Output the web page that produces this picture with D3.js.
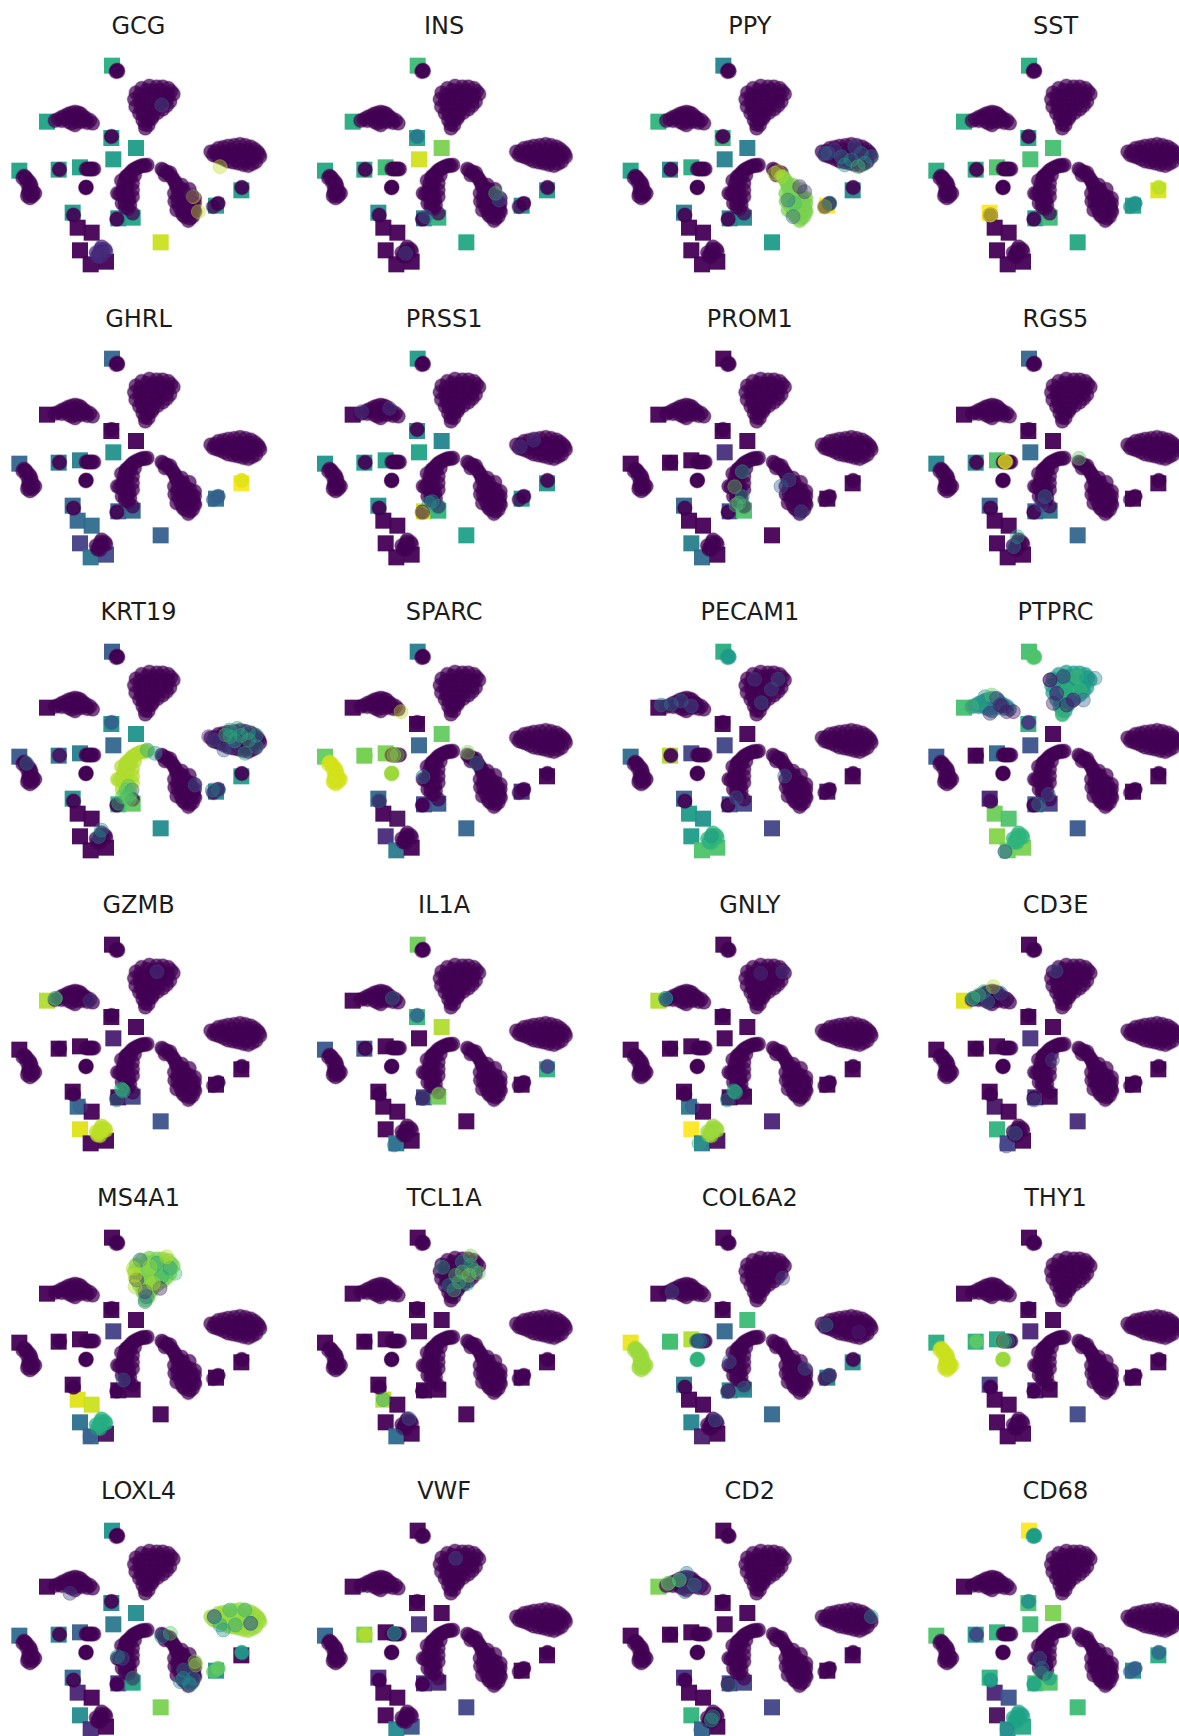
<!DOCTYPE html>
<html>
<head>
<meta charset="utf-8">
<script src="https://cdn.jsdelivr.net/npm/d3@7"></script>
<style>
  body { margin: 0; background: #fff; }
  .title { font: 24px "DejaVu Sans", sans-serif; fill: #1c1c1c; text-anchor: middle; }
</style>
</head>
<body>
<div id="chart"></div>
<script>
const genes = [
  "GCG", "INS", "PPY", "SST",
  "GHRL", "PRSS1", "PROM1", "RGS5",
  "KRT19", "SPARC", "PECAM1", "PTPRC",
  "GZMB", "IL1A", "GNLY", "CD3E",
  "MS4A1", "TCL1A", "COL6A2", "THY1",
  "LOXL4", "VWF", "CD2", "CD68"
];

// t-SNE positions of the 19 wells drawn as squares
const wellPositions = [
  [-11.4, 28.3], [-30.9, 11.5], [-11.6, 6.6], [-4.2, 3.6], [-11, 0.2], [-39.2, -3.2],
  [-27.4, -2.9], [-21, -2.2], [-23.2, -15.8], [-21.7, -20.3], [-17.5, -21.8], [-21, -27.1],
  [-17.8, -31.3], [-13.2, -30.5], [-9.5, -17.5], [-5.2, -17.3], [3.2, -24.7], [19.8, -13.7], [27.4, -9.1]
];

// one row per gene, same order as genes, value for each well (0-1)
const wellValues = [
  [.63, .58, .58, .55, .55, .58, .57, .58, .55, 0, 0, 0, 0, 0, .48, .58, .92, .58, .57],
  [.68, .62, .6, .8, .93, .6, .6, .68, .5, 0, 0, 0, 0, 0, .45, .65, .6, .5, .57],
  [.45, .65, .67, .42, .43, .58, .5, .62, .42, 0, 0, 0, 0, 0, .42, .48, .55, 1, .47],
  [.62, .62, .6, .7, .7, .62, .62, .72, 1, 0, 0, 0, 0, 0, .55, .68, .6, .58, .95],
  [.32, 0, 0, 0, .5, .33, .4, .43, .33, .33, .35, .18, .38, .22, .28, .33, .3, .38, 1],
  [.55, 0, .5, .45, .58, .52, .55, .57, .5, 0, 0, 0, 0, 0, .93, .65, .57, .55, .5],
  [0, 0, 0, 0, .13, 0, 0, 0, .33, 0, 0, .43, .35, 0, .25, .72, 0, 0, 0],
  [.33, 0, 0, 0, .35, .45, .48, .72, .3, 0, 0, 0, 0, 0, .33, .38, .33, 0, 0],
  [.28, 0, .52, .52, .33, .28, .4, .42, .5, 0, 0, 0, 0, 0, .65, .75, .48, .48, .57],
  [.42, 0, 0, .76, .32, .76, .78, .8, .33, 0, .02, .12, .4, 0, .22, .28, .32, .12, 0],
  [.62, 0, 0, 0, .2, .35, .88, .2, .3, .55, .5, .55, .72, .72, .25, .2, .2, .05, 0],
  [.7, .7, .65, 0, .25, .28, 0, .33, .1, .78, .72, .82, .78, .8, .28, .18, .28, 0, 0],
  [0, .88, 0, 0, .08, 0, 0, 0, 0, .35, 0, .95, 0, 0, 0, .2, .25, 0, 0],
  [.78, 0, .68, .88, 0, .28, .25, 0, 0, 0, 0, 0, .42, 0, .22, .78, 0, 0, .65],
  [0, .88, 0, 0, 0, 0, 0, 0, 0, .42, 0, 1, .4, .03, .02, 0, .1, 0, 0],
  [0, .95, 0, 0, .15, 0, 0, 0, 0, .05, 0, .65, .2, 0, .17, 0, .12, 0, 0],
  [0, 0, 0, 0, .18, 0, 0, 0, 0, .95, .92, .37, .33, .02, 0, 0, 0, 0, 0],
  [0, 0, 0, 0, 0, 0, 0, 0, 0, .88, 0, 0, .35, 0, 0, 0, 0, 0, 0],
  [0, 0, 0, .68, .33, .97, .68, .88, .43, 0, 0, .45, .07, 0, .47, .47, .33, .45, .5],
  [0, 0, 0, 0, .1, .62, .62, .6, .18, 0, 0, 0, 0, 0, .08, 0, .22, 0, 0],
  [.52, 0, .45, .48, .4, .35, .45, .3, .32, .1, 0, .48, .12, 0, .12, .6, .8, .5, 0],
  [0, 0, 0, 0, .13, .33, .8, 0, .12, 0, 0, 0, .47, .25, .12, .1, .2, 0, 0],
  [0, .8, 0, 0, 0, 0, 0, 0, .15, 0, 0, .65, .33, 0, .22, .2, .2, 0, 0],
  [1, 0, .72, .8, .68, .72, .55, .65, .65, .1, .25, .02, .55, .6, .68, .73, .68, .5, .62]
];

// cell clusters drawn as circles
const clusterA = [[-10, 26.8], [-9.6, 26.6], [-9.8, 27], [-10.2, 26.5]];
const clusterB = [
  [2, 22], [5.5, 21.5], [7, 19.8], [6, 17.5], [3.8, 15.2], [.8, 13.2], [-.5, 10.5], [-1.4, 9.5], [-2.2, 12], [-3.2, 14],
  [-4.3, 16], [-4.7, 18.2], [-4.2, 20.2], [-2.5, 21.5], [-.2, 22.2], [3.8, 22], [6.3, 20.6], [5, 16.3], [2.3, 14.2], [-.5, 12],
  [-1, 21], [1, 20.8], [3, 20.9], [-3, 19.6], [-1.2, 19.4], [.9, 19.6], [3.1, 19.5], [5.4, 19.5],
  [-3.1, 18], [-1, 18.1], [1, 18], [3, 18.2], [5, 18], [-2.9, 16.5], [-1, 16.6], [1.1, 16.4], [3, 16.6],
  [-2.5, 15], [-.5, 15.1], [1.5, 15], [-2, 13.5], [-.5, 13.6], [-1, 12.2], [.5, 12.4], [-1.5, 10.7]
];
const clusterC = [
  [-28.5, 11.8], [-26.5, 12.8], [-24.5, 13.8], [-22.5, 14.4], [-20.7, 13.8], [-19.2, 12.5], [-17.2, 11], [-18.8, 11.2],
  [-20.5, 11.5], [-22.5, 10.5], [-24.5, 11.5], [-26.5, 11.8], [-23, 12.5], [-21, 12.8], [-25, 12.5], [-22, 11.5],
  [-27.5, 12.2], [-25.5, 13.2], [-23.5, 14.1], [-21.5, 14.2], [-20, 13], [-18, 11.9], [-23.5, 11], [-19.5, 12], [-24, 12.8]
];
const clusterD = [
  [18.2, 2.5], [20.5, 3.5], [23.5, 4.2], [27, 4.7], [30.2, 4], [32.2, 2.5], [33, 1], [31.8, -.5], [29.5, -1.7], [26.5, -1],
  [23.5, -.4], [21, .8], [19, 1.5], [22, 2.5], [24.5, 3], [24.5, 1], [27, 3], [27, 1], [29.5, 3], [29.5, 1], [31, 1.8], [26, -.2], [28.5, -.5],
  [19.5, 2.6], [22, 3.8], [25.3, 4.4], [28.6, 4.4], [31.3, 3.3], [32.7, 1.8], [30.7, -1.1], [28, -1.4], [25, -.7], [22.3, .2], [20, 1.2],
  [23, 1.4], [25.8, 2], [28.3, 2], [30.5, .3]
];
const clusterArchLeft = [
  [-.8, -1.5], [-2, -1.6], [-3.2, -2], [-4.4, -2.6], [-5.5, -3.4], [-6.5, -4.5], [-7.3, -5.7], [-7.8, -7], [-7.2, -5], [-5.8, -5],
  [-6.5, -6.5], [-6.8, -8], [-7.2, -9.2], [-8.5, -9.8], [-9.8, -10], [-8, -11], [-6.5, -10.5], [-6.2, -12], [-6, -13.5], [-6.5, -14.6],
  [-7.5, -13], [-7.4, -14.2], [-8, -8.5], [-1.4, -1.7], [-2.6, -1.8], [-3.8, -2.3], [-5, -3], [-6, -4], [-7, -5.1], [-9.2, -10.2], [-6.8, -12.4],
  [-5.2, -7], [-5.2, -9], [-5.2, -11], [-8.6, -6.2], [-8.4, -13], [-4.6, -4.6]
];
const clusterArchTop = [[3.5, -2.7], [5, -3.5], [6, -3.8], [4.5, -4.5], [4, -3.1], [5.4, -4.2]];
const clusterArchRight = [
  [6.5, -5], [7.5, -6.5], [8, -8], [8.5, -9.5], [8.3, -11], [8.3, -12.5], [8.8, -14], [9.5, -15.5], [10.5, -17], [11.5, -18.2],
  [12.8, -17], [13.5, -15.5], [13, -14], [12.5, -12.5], [11, -10.5], [10, -9], [9.5, -7.5], [10.5, -12.5], [10.5, -14.5], [11.5, -16],
  [12, -11], [7, -5.8], [7.8, -7.3], [9, -8.4], [9.7, -10.5], [9.3, -13], [9.9, -16.5], [12, -17.5], [13.2, -15], [13.4, -11.5],
  [11.8, -8.8], [13.4, -13], [7.3, -10], [7.4, -12.4], [8, -15]
];
const clusterF = [
  [-37.8, -4.8], [-37, -5.6], [-36.2, -6.5], [-35.6, -8], [-35, -9.5], [-35.2, -10.8], [-36, -11.4], [-36.6, -10], [-36.4, -8.6], [-37, -6.8],
  [-37.4, -5.2], [-35.8, -7.2], [-35.4, -10.2], [-36.2, -9.4], [-34.5, -10], [-36.8, -10.8], [-38.2, -5.4]
];
const clusterG = [[-19.2, -2.7], [-18.8, -2.7], [-18.4, -2.7], [-18, -2.7], [-17.6, -2.7], [-17.2, -2.7], [-16.8, -2.7]];
const clusterH = [[-19.2, -8.2], [-19.1, -8.1], [-19.3, -8.3], [-19.2, -8.3]];
const clusterI = [[-14.5, -26], [-13.5, -26.8], [-15, -27.5], [-15.8, -28.8], [-14.2, -27.5], [-15, -29], [-14.8, -26.7], [-15.4, -28.2], [-13.2, -27.4], [-16.2, -27.8]];
const clusterJ = [[-11.6, 7], [-11.5, 7.1]];
const clusterK = [[-27.2, -2.8], [-27.1, -2.9]];
const clusterL = [[-23, -16.5], [-22.9, -16.6]];
const clusterM = [[27.5, -8.2], [27.6, -8.3]];
const clusterN = [[19, -14], [20.5, -13], [20.3, -13.1]];
const clusterO = [[-10, -17.8], [-5.2, -16], [-9.9, -17.7]];

const clusterNames = ["A", "B", "C", "D", "archLeft", "archTop", "archRight", "F", "G", "H", "I", "J", "K", "L", "M", "N", "O"];
const clusterCells = [clusterA, clusterB, clusterC, clusterD, clusterArchLeft, clusterArchTop, clusterArchRight, clusterF, clusterG,
  clusterH, clusterI, clusterJ, clusterK, clusterL, clusterM, clusterN, clusterO];

// value of a whole cluster per gene, clusters not listed are 0
const clusterValues = [
  {I: .12},
  {J: .4},
  {archRight: .8},
  {M: .9, N: .5},
  {M: .95, N: .3},
  {},
  {},
  {},
  {archLeft: .88, J: .3, K: .05},
  {F: .93, H: .85, K: .8},
  {A: .55, I: .65},
  {A: .72, B: .55, C: .45, I: .65, J: .15},
  {I: .9},
  {J: .35, M: .2},
  {I: .85},
  {},
  {B: .8, I: .62},
  {},
  {F: .85, H: .65, K: .7},
  {F: .92, H: .85, K: .75},
  {D: .85, N: .75, M: .55},
  {K: .88},
  {},
  {A: .55, J: .5, K: .2, L: .55, M: .35, N: .3, O: .6, I: .58}
];

// single cells that differ from their cluster: [x, y, value]
const hotCells = [
  [[13, -11, .95], [12.5, -10.5, .1], [14.5, -15.5, .9], [21, -2, .9], [3.5, 16.5, .25]],
  [[12, -10, .7], [13, -12, .3], [-15, -28, .25], [-9, -17, .35]],
  [[4, -4, .88], [6, -5, .88], [5, -3.5, .9], [13, -9.5, .15], [10, -13, .7], [9.5, -17, .3], [8, -12, .35], [11.5, -8, .1],
   [19, -14, .9], [20.5, -13, .55], [20, 2, .3], [24, 1, .45], [27, 0, .5], [30, 2, .4], [31, -1, .6], [25, -1.5, .55], [28, 4, .3],
   [22, 3, .2], [29, -2, .7], [33, 1, .45], [19, 2, .35]],
  [[-23, -16.5, .95], [-23, -16.5, .95]],
  [],
  [[-7, -14.6, .55], [-5.2, -16, .55], [-8, -15, .5], [-10.1, -18, .9], [-28.2, 12.4, .2], [-19.8, 13.4, .2], [19.4, 1.9, .2], [23.4, 3.9, .2]],
  [[-5.7, -5.6, .6], [-8, -10.1, .75], [-5.7, -13.1, .6], [-7.6, -15.6, .72], [-6.8, -15, .72], [-5.2, -16, .7], [8.3, -8.1, .3], [12, -17.6, .3], [5.9, -10, .3]],
  [[-18.6, -2.6, .95], [-18.6, -2.6, .95], [-18.3, -2.6, .95], [3.6, -1.6, .75], [-6.6, -13.1, .4], [-7.7, -15.6, .2], [-14.9, -25.1, .6], [-16, -28.1, .4]],
  [[-7.1, -13.2, .72], [-5.4, -13.2, .3], [-8.3, -15.2, .7], [-5.4, -17.2, .78], [-9.4, -17.2, .68], [-7, -15.5, .7], [-6, -14.5, .7], [-6.5, -12, .72], [-6.2, -16, .75],
   [-.8, -1.2, .6], [1.5, -2.2, .5], [22.7, 3.3, .7], [26.2, 5.3, .6], [29.6, 1.8, .65], [19.3, 1.8, .3], [25, -.2, .2], [28.5, -2.2, .6], [31.9, -.2, .55],
   [22.2, -1.2, .3], [27.3, 3.2, .65], [31.9, 3.2, .55], [23.9, 4.8, .6], [17.6, 2.8, .1], [25.5, 1.5, .6], [29.5, 4, .6], [24, 2.8, .62], [-15.4, -27.2, .45], [-14.6, -25.2, .5], [-37, -5.2, .4],
   [13.5, -11.7, .3], [18.7, -13.2, .4], [20.5, -13.2, .45]],
  [[-19.5, -2.7, .85], [-18.5, -2.7, .85], [-17.5, -2.7, .8], [-16.4, 10.3, .9], [3.6, -1.9, .8], [6.3, -5.2, .4], [-9.8, -9.2, .4], [-23, -16.5, .45]],
  [[-30, 12.3, .4], [-27, 12.5, .4], [-24, 13.5, .35], [-21, 12, .3], [3, 17, .25], [5, 20, .3], [0, 13, .3], [-2, 20, .2], [7, -9, .3], [-15, -27, .5], [-7.5, -15.5, .3]],
  [[-5.1, 19.8, .05], [-3.1, 15.8, .1], [-.1, 16.8, .7], [2.9, 20.8, .72], [5.9, 20.3, .55], [8.4, 20.3, .45], [1.9, 13.8, .1], [3.9, 16.8, .7], [-1.1, 20.8, .08],
   [-1.4, 9.3, .72], [-4.1, 12.8, .05], [4.9, 13.8, .3], [-.1, 12.3, .02], [-5.1, 19.8, .05], [-3.1, 15.8, .1], [1.9, 13.8, .1],
   [-28.6, 11.8, .72], [-26.1, 12.8, .65], [-24.6, 14.8, .5], [-22.6, 15.3, .75], [-20.1, 12.3, .05], [-23.1, 9.8, .1], [-18.1, 10.3, .05], [-16.1, 10.3, .02], [-21.1, 14.3, .15], [-19.5, 12, .05],
   [-18.6, -31.7, .35], [-18.6, -31.7, .35], [-8.5, -17.5, .45], [-5.6, -14.5, .3], [-23, -16.5, .1]],
  [[-28.4, 12.2, .7], [-28.4, 12.2, .7], [-8.3, -15.3, .65], [-8, -15.6, .65], [-8.6, -15, .65], [-10, -18.3, .5], [-20.9, -20.3, .25], [2.1, 20.2, .2], [-18, 11.5, .2]],
  [[-19, 12.2, .4], [-5.2, -16.8, .8], [-5, -16.5, .8], [-9.8, -17.8, .35], [-18.4, -31.8, .3]],
  [[-28.7, 12.2, .5], [-28.7, 12.2, .5], [-8, -15.8, .62], [-8.3, -15.5, .62], [-7.7, -16, .62], [-10.2, -18.3, .5], [-18.7, -31.3, .6], [6.4, 20.2, .2], [-.2, 19.7, .15], [-20.7, -20.3, .2]],
  [[-28.2, 12.2, .62], [-28.2, 12.2, .62], [-24.9, 14.2, .5], [-22.1, 15.7, .88], [-26.5, 13.2, .68], [-23.8, 11.2, .4], [-19.9, 13.7, .35], [-18.2, 12, .05], [-3.3, 20.4, .3],
   [-15.5, -28.3, .4], [-18.2, -32.1, .2], [-9.9, -18.3, .25], [-4.4, -6.3, .2]],
  [[-1, 10.6, .45], [-1.5, 9.1, .42], [-4, 15.6, .05], [-1.5, 12.1, .1], [3.5, 16.6, .6], [3, 13.1, .08], [-3, 21.6, .3], [6, 19.1, .5], [2, 20.6, .55], [5, 22.6, .9],
   [7.5, 17.6, .7], [-5, 19.1, .88], [0, 19.6, .85], [-4.5, 13.6, .88], [1, 14.6, .88], [-4.5, 17, .9], [-18, -31.4, .25], [-8, -14.4, .35]],
  [[4.4, 22.8, .8], [6.8, 17.7, .75], [-.5, 12.6, .7], [-3.9, 19.4, .6], [2, 18, .8], [1, 15, .7], [4.5, 20, .6], [2, 21, .5], [-2, 14, .45], [3.5, 14.5, .6],
   [4, 17, .8], [5.5, 18.5, .7], [0, 17, .7],
   [-21.7, -20.3, .55], [-14, -26, .3], [-17.8, -31.3, .35]],
  [[-19.5, -2.7, .55], [-18.5, -2.7, .5], [-17.8, -2.7, .35], [-13.8, -26.4, .35], [-10.2, -17.9, .4], [-5.2, -16.9, .4], [-9.6, -8.9, .3], [13.1, -10.9, .3],
   [20.3, -13, .4], [19.4, 2.1, .45], [29.2, 0, .1], [-26.8, 12.1, .25], [6.4, 16.1, .2]],
  [[-19.5, -2.7, .75], [-18.7, -2.7, .75], [-17.8, -2.7, .5]],
  [[19.3, 2.5, .45], [19.3, 2.5, .2], [21, 0, .55], [25.6, 0, .55], [30.2, .5, .55], [30.2, .5, .2], [28.5, 4.5, .6], [24, 4.5, .62], [22, -1.5, .5],
   [13.5, -11, .8], [13.8, -12, .85], [10.1, -13.5, .4], [10, -16, .5], [12, -18, .5], [13, -16, .48], [9, -17, .45], [11.8, -17.5, .45],
   [6.1, -2.5, .75], [3.5, -3.5, .5], [-8.3, -10, .3], [-9.8, -9.5, .5], [-5.2, -16, .6], [-24, 9.5, .2]],
  [[-18.4, -2.5, .5], [-18.4, -2.5, .5], [0, 20, .25]],
  [[-27.9, 12.5, .75], [-27.9, 12.5, .75], [-24.6, 13.5, .7], [-24.6, 13.5, .7], [-20.1, 12, .6], [-22.4, 15.5, .4], [-22.9, 10, .3], [-19, 11.5, .2],
   [-14.5, -27.5, .55], [-15, -28.5, .62], [-9.9, -18, .45], [33, 2.5, .5], [-18.2, -31.5, .3]],
  [[-8.2, -10, .35], [-7.7, -14.5, .65], [-18, -31.3, .4], [-7.5, -13, .4]]
];

const panelWidth = 300;
const panelHeight = 290;
const markColor = d3.interpolateViridis;

const panelX = d3.scalePoint().domain(d3.range(4)).range([0, 917]);
const panelY = d3.scalePoint().domain(d3.range(6)).range([0, 1465]);

const x = d3.scaleLinear().domain([-45, 45]).range([0, panelWidth]);
const y = d3.scaleLinear().domain([48, -39]).range([0, panelHeight]);

const svg = d3.select("#chart")
  .append("svg")
  .attr("width", 1179)
  .attr("height", 1736);

const blur = svg.append("defs").append("filter")
  .attr("id", "soft")
  .attr("x", "-5%").attr("y", "-5%")
  .attr("width", "110%").attr("height", "110%");
blur.append("feGaussianBlur").attr("stdDeviation", 0.7);

const panels = svg.selectAll(".panel")
  .data(genes)
  .join("g")
  .attr("class", "panel")
  .attr("transform", (d, i) => `translate(${panelX(i % 4)}, ${panelY(Math.floor(i / 4))})`);

panels.append("text")
  .attr("class", "title")
  .attr("x", 138.5)
  .attr("y", 34)
  .text(d => d);

const marks = panels.append("g").attr("filter", "url(#soft)");

// squares go first, cells sit on top of them
marks.each(function (gene, i) {
  const g = d3.select(this);

  g.selectAll(".well")
    .data(wellPositions.map((p, k) => ({x: p[0], y: p[1], value: wellValues[i][k]})))
    .join("rect")
    .attr("class", "well")
    .attr("x", d => x(d.x) - 8)
    .attr("y", d => y(d.y) - 8)
    .attr("width", 16)
    .attr("height", 16)
    .attr("fill", d => markColor(d.value))
    .attr("fill-opacity", 0.95);

  const cells = [];
  clusterNames.forEach((name, c) => {
    clusterCells[c].forEach(p => {
      cells.push({x: p[0], y: p[1], value: clusterValues[i][name] || 0});
    });
  });

  g.selectAll(".cell")
    .data(cells)
    .join("circle")
    .attr("class", "cell")
    .attr("cx", d => x(d.x))
    .attr("cy", d => y(d.y))
    .attr("r", 7)
    .attr("fill", d => markColor(d.value))
    .attr("stroke", d => markColor(d.value))
    .attr("stroke-width", 1.5)
    .attr("fill-opacity", 0.72)
    .attr("stroke-opacity", 0.25);

  g.selectAll(".hot")
    .data(hotCells[i].map(p => ({x: p[0], y: p[1], value: p[2]})))
    .join("circle")
    .attr("class", "hot")
    .attr("cx", d => x(d.x))
    .attr("cy", d => y(d.y))
    .attr("r", 7)
    .attr("fill", d => markColor(d.value))
    .attr("stroke", d => markColor(d.value))
    .attr("fill-opacity", 0.4)
    .attr("stroke-opacity", 0.4);
});
</script>
</body>
</html>
